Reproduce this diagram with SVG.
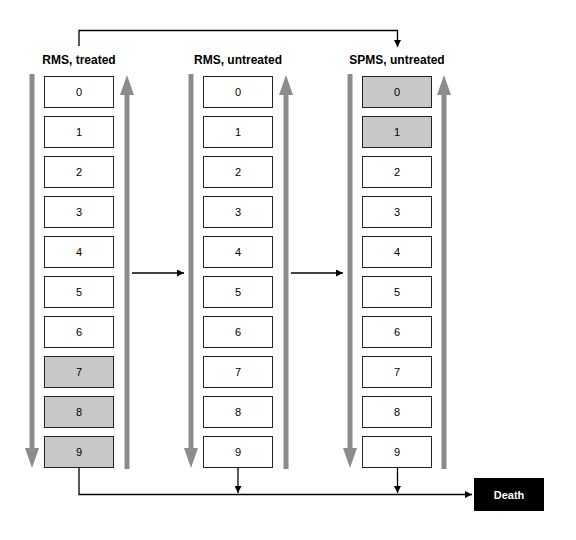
<svg xmlns="http://www.w3.org/2000/svg" width="576" height="540" viewBox="0 0 576 540">
<style>
.bg{fill:#fff}
.title{font-family:"Liberation Sans",Arial,sans-serif;font-weight:bold;font-size:12px;fill:#000;text-anchor:middle}
.box{fill:#fff;stroke:#222;stroke-width:1}
.box.g{fill:#c8c8c8}
.num{font-family:"Liberation Sans",Arial,sans-serif;font-size:11px;fill:#000;text-anchor:middle}
.shaft{stroke:#8c8c8c;stroke-width:5;fill:none}
.head{fill:#8c8c8c}
.conn{stroke:#000;stroke-width:1.3;fill:none}
.death{fill:#000}
.dtext{font-family:"Liberation Sans",Arial,sans-serif;font-weight:bold;font-size:11px;fill:#fff;text-anchor:middle}
</style>
<defs>
<marker id="ah" viewBox="0 0 10 10" refX="10" refY="5" markerWidth="7" markerHeight="7" markerUnits="userSpaceOnUse" orient="auto">
<path d="M0,0 L10,5 L0,10 z" fill="#000"/>
</marker>
<g id="downArrow">
<line class="shaft" x1="0" y1="74" x2="0" y2="450"/>
<path class="head" d="M-7,448 L7,448 L0,468 z"/>
</g>
<g id="upArrow">
<line class="shaft" x1="0" y1="93" x2="0" y2="469"/>
<path class="head" d="M-7,95 L7,95 L0,75 z"/>
</g>
</defs>
<rect class="bg" width="576" height="540"/>

<g id="col1">
<text class="title" x="79" y="64">RMS, treated</text>
<use href="#downArrow" x="32"/>
<use href="#upArrow" x="127"/>
<g id="c1b0"><rect class="box" x="44.5" y="76.5" width="69" height="31"/><text class="num" x="79" y="96">0</text></g>
<g id="c1b1"><rect class="box" x="44.5" y="116.5" width="69" height="31"/><text class="num" x="79" y="136">1</text></g>
<g id="c1b2"><rect class="box" x="44.5" y="156.5" width="69" height="31"/><text class="num" x="79" y="176">2</text></g>
<g id="c1b3"><rect class="box" x="44.5" y="196.5" width="69" height="31"/><text class="num" x="79" y="216">3</text></g>
<g id="c1b4"><rect class="box" x="44.5" y="236.5" width="69" height="31"/><text class="num" x="79" y="256">4</text></g>
<g id="c1b5"><rect class="box" x="44.5" y="276.5" width="69" height="31"/><text class="num" x="79" y="296">5</text></g>
<g id="c1b6"><rect class="box" x="44.5" y="316.5" width="69" height="31"/><text class="num" x="79" y="336">6</text></g>
<g id="c1b7"><rect class="box g" x="44.5" y="356.5" width="69" height="31"/><text class="num" x="79" y="376">7</text></g>
<g id="c1b8"><rect class="box g" x="44.5" y="396.5" width="69" height="31"/><text class="num" x="79" y="416">8</text></g>
<g id="c1b9"><rect class="box g" x="44.5" y="436.5" width="69" height="31"/><text class="num" x="79" y="456">9</text></g>
</g>

<g id="col2">
<text class="title" x="238" y="64">RMS, untreated</text>
<use href="#downArrow" x="191"/>
<use href="#upArrow" x="286"/>
<g id="c2b0"><rect class="box" x="203.5" y="76.5" width="69" height="31"/><text class="num" x="238" y="96">0</text></g>
<g id="c2b1"><rect class="box" x="203.5" y="116.5" width="69" height="31"/><text class="num" x="238" y="136">1</text></g>
<g id="c2b2"><rect class="box" x="203.5" y="156.5" width="69" height="31"/><text class="num" x="238" y="176">2</text></g>
<g id="c2b3"><rect class="box" x="203.5" y="196.5" width="69" height="31"/><text class="num" x="238" y="216">3</text></g>
<g id="c2b4"><rect class="box" x="203.5" y="236.5" width="69" height="31"/><text class="num" x="238" y="256">4</text></g>
<g id="c2b5"><rect class="box" x="203.5" y="276.5" width="69" height="31"/><text class="num" x="238" y="296">5</text></g>
<g id="c2b6"><rect class="box" x="203.5" y="316.5" width="69" height="31"/><text class="num" x="238" y="336">6</text></g>
<g id="c2b7"><rect class="box" x="203.5" y="356.5" width="69" height="31"/><text class="num" x="238" y="376">7</text></g>
<g id="c2b8"><rect class="box" x="203.5" y="396.5" width="69" height="31"/><text class="num" x="238" y="416">8</text></g>
<g id="c2b9"><rect class="box" x="203.5" y="436.5" width="69" height="31"/><text class="num" x="238" y="456">9</text></g>
</g>

<g id="col3">
<text class="title" x="397" y="64">SPMS, untreated</text>
<use href="#downArrow" x="350"/>
<use href="#upArrow" x="444"/>
<g id="c3b0"><rect class="box g" x="362.5" y="76.5" width="69" height="31"/><text class="num" x="397" y="96">0</text></g>
<g id="c3b1"><rect class="box g" x="362.5" y="116.5" width="69" height="31"/><text class="num" x="397" y="136">1</text></g>
<g id="c3b2"><rect class="box" x="362.5" y="156.5" width="69" height="31"/><text class="num" x="397" y="176">2</text></g>
<g id="c3b3"><rect class="box" x="362.5" y="196.5" width="69" height="31"/><text class="num" x="397" y="216">3</text></g>
<g id="c3b4"><rect class="box" x="362.5" y="236.5" width="69" height="31"/><text class="num" x="397" y="256">4</text></g>
<g id="c3b5"><rect class="box" x="362.5" y="276.5" width="69" height="31"/><text class="num" x="397" y="296">5</text></g>
<g id="c3b6"><rect class="box" x="362.5" y="316.5" width="69" height="31"/><text class="num" x="397" y="336">6</text></g>
<g id="c3b7"><rect class="box" x="362.5" y="356.5" width="69" height="31"/><text class="num" x="397" y="376">7</text></g>
<g id="c3b8"><rect class="box" x="362.5" y="396.5" width="69" height="31"/><text class="num" x="397" y="416">8</text></g>
<g id="c3b9"><rect class="box" x="362.5" y="436.5" width="69" height="31"/><text class="num" x="397" y="456">9</text></g>
</g>

<g id="death">
<rect class="death" x="474" y="478" width="70" height="33"/>
<text class="dtext" x="509" y="498.5">Death</text>
</g>

<g id="connectors">
<path class="conn" d="M79,46 V30.5 H397.5 V47" marker-end="url(#ah)"/>
<line class="conn" x1="132" y1="273" x2="184" y2="273" marker-end="url(#ah)"/>
<line class="conn" x1="291" y1="273" x2="343" y2="273" marker-end="url(#ah)"/>
<path class="conn" d="M79,468 V494.5 H472" marker-end="url(#ah)"/>
<line class="conn" x1="238" y1="468" x2="238" y2="493" marker-end="url(#ah)"/>
<line class="conn" x1="397.5" y1="468" x2="397.5" y2="493" marker-end="url(#ah)"/>
</g>
</svg>
